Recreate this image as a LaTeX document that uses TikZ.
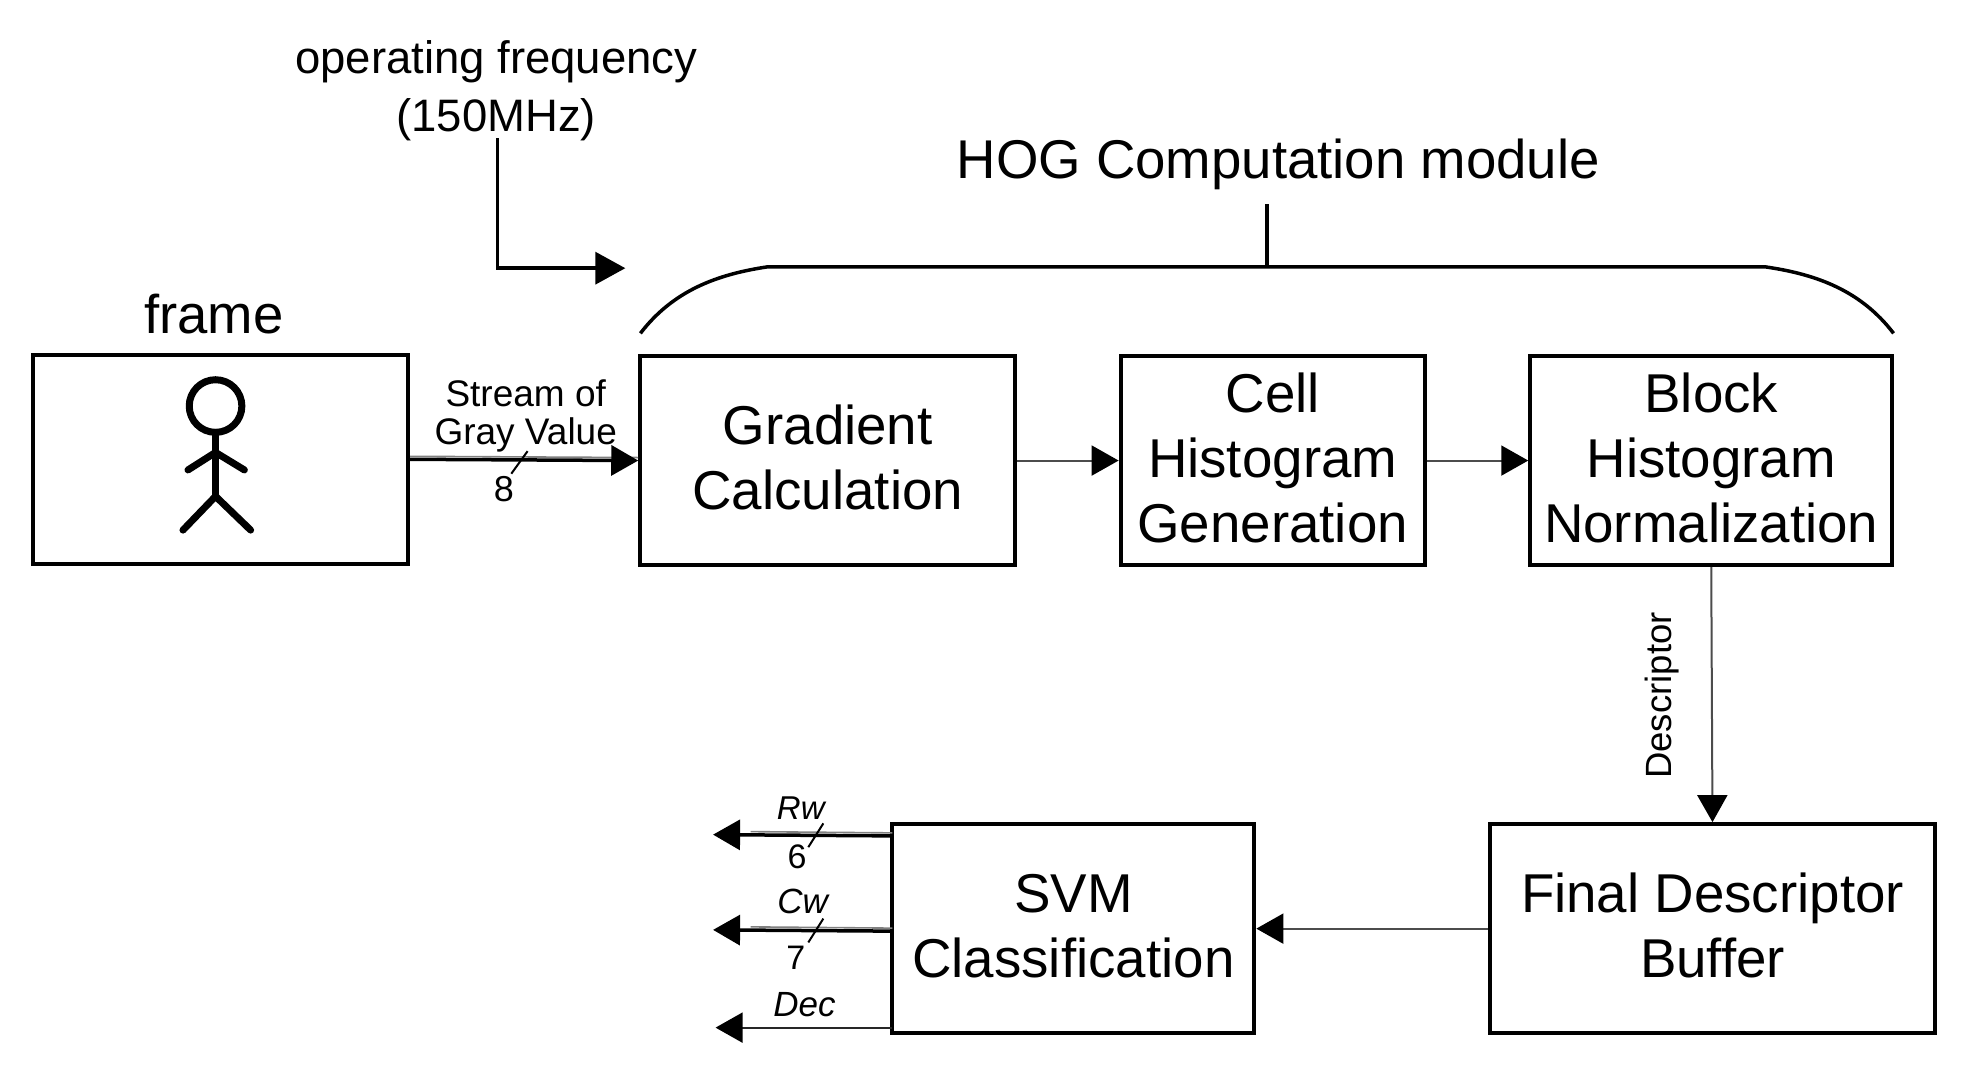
\documentclass[tikz,border=0pt]{standalone}
\usepackage{fontspec}
\setmainfont{Liberation Sans}
\usetikzlibrary{arrows.meta,calc}
\newcommand{\boxlines}[1]{\raisebox{0pt}[\dimexpr\height+7.6pt\relax][\depth]{\begin{tabular}{@{}c@{}}#1\end{tabular}}}
\tikzset{
  blockbox/.style={draw=black,line width=4pt,fill=white,inner sep=0pt,font=\fontsize{54.7}{65}\selectfont},
  lbl/.style={inner sep=0pt,align=center,text=black},
  thinconn/.style={draw=black!70,line width=2pt,-{Triangle[length=27pt,width=30pt,color=black]}},
  thickconn/.style={draw=black,line width=3.5pt,-{Triangle[length=27pt,width=30pt]}},
  paleline/.style={draw=black!50,line width=1.6pt},
  slash/.style={draw=black,line width=2pt},
  figure line/.style={draw=black,line width=7pt,line cap=round,line join=round},
  brace/.style={draw=black,line width=3.5pt}
}
\begin{document}
\begin{tikzpicture}[x=1.2532pt,y=-1.2532pt]
\useasboundingbox (0,0) rectangle (1568,854.6);
% blocks
\node[blockbox,minimum width=375pt,minimum height=209pt] (frame) at (176,366.5) {};
\node[blockbox,minimum width=375pt,minimum height=209pt] (grad) at (660.5,367.5) {\boxlines{Gradient\\Calculation}};
\node[blockbox,minimum width=304pt,minimum height=209pt] (cell) at (1015.5,367.5) {\boxlines{Cell\\Histogram\\Generation}};
\node[blockbox,minimum width=362pt,minimum height=209pt] (block) at (1365.5,367.5) {\boxlines{Block\\Histogram\\Normalization}};
\node[blockbox,minimum width=445pt,minimum height=209pt] (final) at (1366.5,741) {\boxlines{Final Descriptor\\Buffer}};
\node[blockbox,minimum width=362pt,minimum height=209pt] (svm) at (856.5,741) {\boxlines{SVM\\Classification}};
% titles
\node[lbl,font=\fontsize{54.5}{60}\selectfont] (frametitle) at (170.5,250.5) {frame};
\node[lbl,font=\fontsize{45.5}{58}\selectfont] (freq) at (396,72) {operating frequency\\(150MHz)};
\node[lbl,font=\fontsize{54.6}{60}\selectfont] (hog) at (1020,131) {HOG Computation module};
% stick figure
\draw[figure line] (172,324) ellipse [x radius=21,y radius=21];
\draw[figure line] (172,345) -- (172,396);
\draw[figure line] (150,375) -- (172,361) -- (195,375);
\draw[figure line] (146,423) -- (172,396) -- (200,423);
% frequency arrow
\coordinate (freqbend) at (397,214);
\coordinate (freqend) at (499,214);
\draw[draw=black,line width=3.5pt,-{Triangle[length=30pt,width=32pt]}] (freq.south -| freqbend) ++(0,-2) -- (freqbend) -- (freqend);
% HOG brace
\coordinate (braceL) at (511,266);
\coordinate (braceR) at (1511,266);
\coordinate (braceTL) at (612,213);
\coordinate (braceTR) at (1409,213);
\draw[brace] (braceL) .. controls (537,232) and (572,219) .. (braceTL) -- (braceTR) .. controls (1450,219) and (1485,232) .. (braceR);
\coordinate (stemtop) at (1011,163);
\coordinate (stembot) at (1011,213);
\draw[brace] (stemtop) -- (stembot);
% stream connector
\draw[paleline] ([yshift=-3pt]frame.east) ++(0,6pt) -- ([yshift=3pt]grad.west);
\draw[thickconn] (frame.east) -- (grad.west);
\coordinate (slashA1) at (408,378);
\coordinate (slashA2) at (421,360);
\draw[slash] (slashA1) -- (slashA2);
\node[lbl,font=\fontsize{37}{38}\selectfont] (stream) at (419.5,332) {Stream of\\Gray Value};
\node[lbl,font=\fontsize{36}{38}\selectfont] (eight) at (402,390) {8};
% block chain
\draw[thinconn] (grad.east) -- (cell.west);
\draw[thinconn] (cell.east) -- (block.west);
\draw[thinconn] (block.south) -- (final.north);
\node[lbl,rotate=90,font=\fontsize{36.5}{38}\selectfont] (descr) at (1326,555) {Descriptor};
\draw[thinconn] (final.west) -- (svm.east);
% outputs
\coordinate (rwend) at (569,666);
\coordinate (cwend) at (569,742);
\coordinate (decend) at (571,820);
\coordinate (rwstart) at (712,667);
\coordinate (cwstart) at (712,743);
\coordinate (decstart) at (712,820);
\draw[thickconn] (rwstart) -- (rwend);
\draw[paleline] ($(rwstart)+(0,-2.4)$) -- ($(rwend)+(30,-2.4)$);
\draw[thickconn] (cwstart) -- (cwend);
\draw[paleline] ($(cwstart)+(0,-2.4)$) -- ($(cwend)+(30,-2.4)$);
\draw[draw=black!85,line width=2pt,-{Triangle[length=27pt,width=30pt,color=black]}] (decstart) -- (decend);
\coordinate (rwA) at (645,676);
\coordinate (rwB) at (657,657);
\coordinate (cwA) at (645,752);
\coordinate (cwB) at (657,733);
\draw[slash] (rwA) -- (rwB);
\draw[slash] (cwA) -- (cwB);
\node[lbl,font=\fontsize{33}{36}\itshape\selectfont] (rw) at (639,644.5) {Rw};
\node[lbl,font=\fontsize{34}{36}\selectfont] (six) at (636,684) {6};
\node[lbl,font=\fontsize{35}{36}\itshape\selectfont] (cw) at (640.5,719.5) {Cw};
\node[lbl,font=\fontsize{34}{36}\selectfont] (seven) at (635,764) {7};
\node[lbl,font=\fontsize{35}{36}\itshape\selectfont] (dec) at (642,801.5) {Dec};
\end{tikzpicture}
\end{document}
